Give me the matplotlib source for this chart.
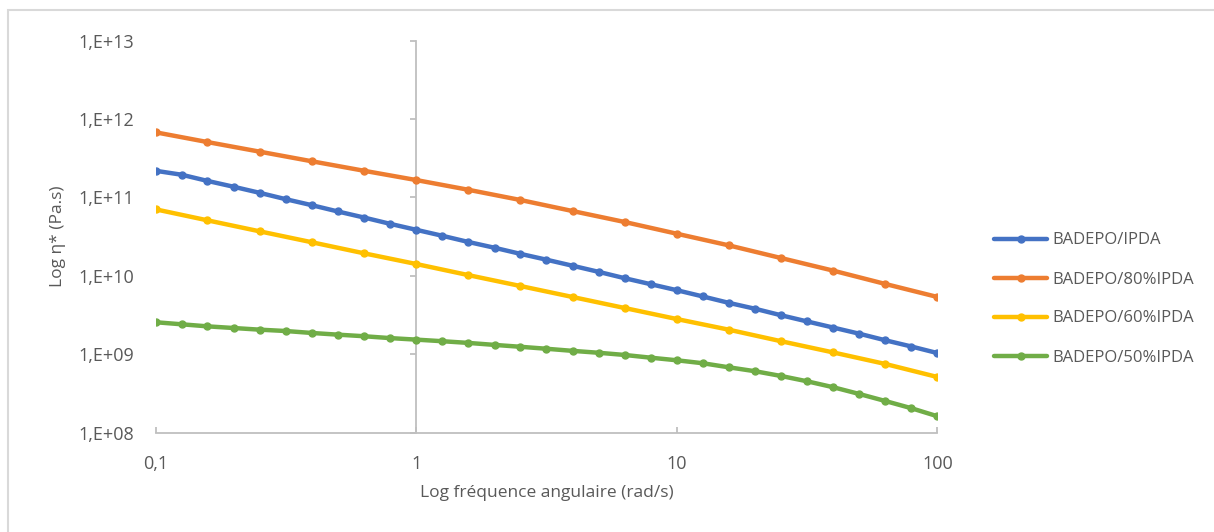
import matplotlib
matplotlib.use("Agg")
import matplotlib.pyplot as plt
from matplotlib.patches import Rectangle

# angular frequency (rad/s)
freq_10 = [0.1, 0.126, 0.158, 0.2, 0.251, 0.316, 0.398, 0.501, 0.631, 0.794,
           1, 1.26, 1.58, 2, 2.51, 3.16, 3.98, 5.01, 6.31, 7.94,
           10, 12.6, 15.8, 20, 25.1, 31.6, 39.8, 50.1, 63.1, 79.4, 100]
freq_5 = [0.1, 0.158, 0.251, 0.398, 0.631, 1, 1.58, 2.51, 3.98, 6.31,
          10, 15.8, 25.1, 39.8, 63.1, 100]

# complex viscosity (Pa.s)
eta_ipda = [2.18e11, 1.94e11, 1.62e11, 1.36e11, 1.14e11, 9.46e10, 7.93e10, 6.59e10,
            5.52e10, 4.59e10, 3.85e10, 3.23e10, 2.70e10, 2.27e10, 1.90e10, 1.60e10,
            1.34e10, 1.12e10, 9.29e9, 7.79e9, 6.53e9, 5.43e9, 4.51e9, 3.78e9,
            3.13e9, 2.61e9, 2.18e9, 1.82e9, 1.50e9, 1.25e9, 1.03e9]
eta_80 = [6.75e11, 5.07e11, 3.82e11, 2.88e11, 2.18e11, 1.66e11, 1.25e11, 9.24e10,
          6.68e10, 4.84e10, 3.43e10, 2.44e10, 1.68e10, 1.16e10, 7.84e9, 5.35e9]
eta_60 = [7.03e10, 5.09e10, 3.68e10, 2.67e10, 1.93e10, 1.41e10, 1.02e10, 7.39e9,
          5.35e9, 3.87e9, 2.80e9, 2.05e9, 1.46e9, 1.05e9, 7.48e8, 5.10e8]
eta_50 = [2.55e9, 2.40e9, 2.26e9, 2.15e9, 2.05e9, 1.97e9, 1.86e9, 1.77e9,
          1.69e9, 1.60e9, 1.53e9, 1.46e9, 1.39e9, 1.31e9, 1.24e9, 1.17e9,
          1.10e9, 1.04e9, 9.75e8, 9.00e8, 8.34e8, 7.64e8, 6.79e8, 6.04e8,
          5.26e8, 4.50e8, 3.78e8, 3.10e8, 2.52e8, 2.04e8, 1.61e8]

xticks = [0.1, 1, 10, 100]
xticklabels = ["0,1", "1", "10", "100"]
yticks = [1e8, 1e9, 1e10, 1e11, 1e12, 1e13]
yticklabels = ["1,E+08", "1,E+09", "1,E+10", "1,E+11", "1,E+12", "1,E+13"]

TXT = "#595959"
AX = "#bfbfbf"
plt.rcParams["font.family"] = ["Open Sans", "DejaVu Sans"]

W, H = 1214, 532
fig = plt.figure(figsize=(W / 100, H / 100), dpi=100, facecolor="white")
ax = fig.add_axes([155.5 / W, 1 - 432.5 / H, 782 / W, 392 / H])

# chart area border (only left / top visible in the crop)
fig.patches.append(Rectangle((8 / W, -0.1), 1.2, 1 - 10 / H + 0.1,
                             transform=fig.transFigure, fill=False,
                             edgecolor="#d9d9d9", linewidth=1.5))

series = [
    (freq_10, eta_ipda, "#4472C4", "BADEPO/IPDA"),
    (freq_5, eta_80, "#ED7D31", "BADEPO/80%IPDA"),
    (freq_5, eta_60, "#FFC000", "BADEPO/60%IPDA"),
    (freq_10, eta_50, "#70AD47", "BADEPO/50%IPDA"),
]
for x, y, c, lab in series:
    ax.plot(x, y, color=c, lw=3.2, marker="o", ms=5, label=lab,
            solid_capstyle="round", zorder=3)

ax.set_xscale("log")
ax.set_yscale("log")
ax.set_xlim(0.1, 100)
ax.set_ylim(1e8, 1e13)
ax.minorticks_off()

for s in ["top", "right", "left"]:
    ax.spines[s].set_visible(False)
ax.spines["bottom"].set_color(AX)
ax.spines["bottom"].set_linewidth(1.3)

ax.set_xticks(xticks)
ax.set_xticklabels(xticklabels)
ax.set_yticks(yticks)
ax.set_yticklabels(yticklabels)
ax.tick_params(axis="x", direction="in", length=4.5, width=1.3, color=AX,
               labelsize=13, labelcolor=TXT, pad=16)
ax.tick_params(axis="y", length=0, labelsize=13, labelcolor=TXT, pad=15.5)

# vertical axis crossing at x = 1
sec = ax.secondary_yaxis(1 / 3)
sec.spines["left"].set_color(AX)
sec.spines["left"].set_linewidth(1.3)
sec.set_yticks(yticks)
sec.minorticks_off()
sec.tick_params(axis="y", direction="out", length=4.5, width=1.3, color=AX,
                labelleft=False)

ax.set_xlabel("Log fréquence angulaire (rad/s)", fontsize=12.5, color=TXT)
ax.xaxis.set_label_coords(0.5, -0.135)
ax.set_ylabel("Log η* (Pa.s)", fontsize=12.5, color=TXT)
ax.yaxis.set_label_coords(-0.115, 0.5)

fig.legend(loc="center left", bbox_to_anchor=(994 / W, 1 - 299 / H),
           frameon=False, fontsize=12, labelcolor=TXT, handlelength=3.2,
           handletextpad=0.3, labelspacing=1.38, borderpad=0,
           borderaxespad=0)

fig.savefig("out.png", dpi=100, facecolor="white")
